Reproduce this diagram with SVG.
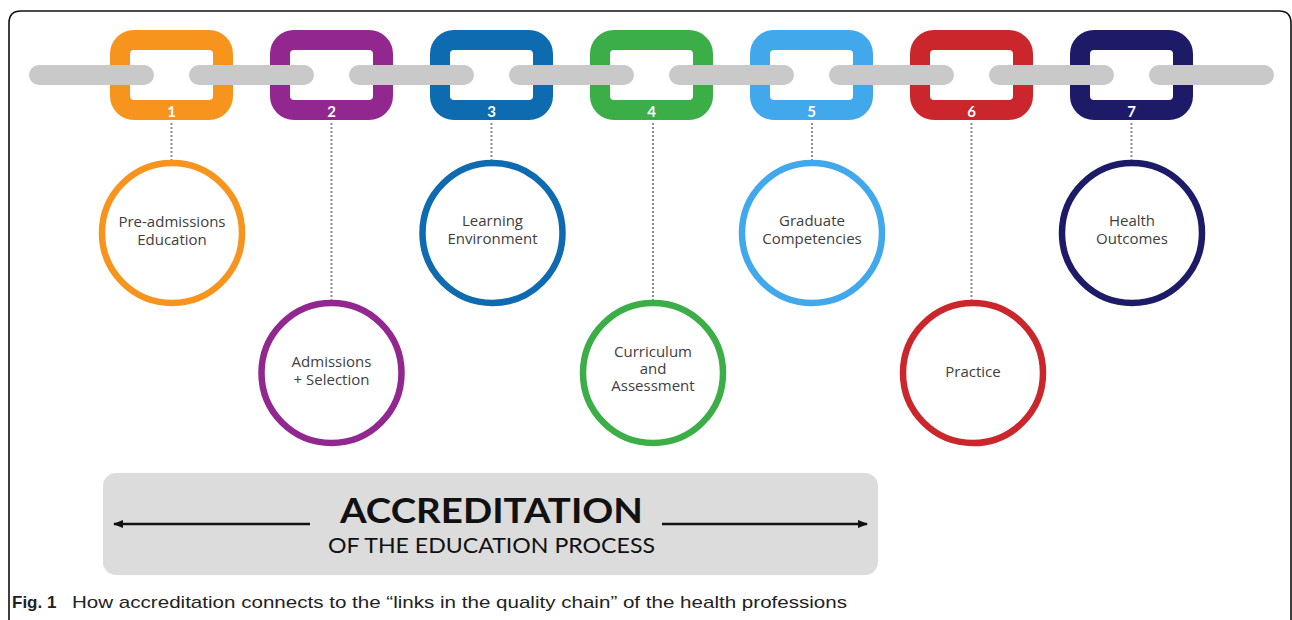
<svg xmlns="http://www.w3.org/2000/svg" width="1292" height="620" viewBox="0 0 1292 620">
<style>
.link{fill:none;stroke-width:20}
.ring{fill:#fff;stroke-width:6.5}
.num{font-family:"Lato","Liberation Sans",sans-serif;font-weight:bold;font-size:15px;fill:#fff;text-anchor:middle}
.lbl{font-family:"Open Sans","Liberation Sans",sans-serif;font-size:15px;fill:#404040;text-anchor:middle}
.bar{fill:#c9c9c9}
.dot{stroke:#8f8f8f;stroke-width:2;stroke-dasharray:2 2;fill:none}
.arr{stroke:#111;stroke-width:2.5;fill:none}
.cap{font-family:"Liberation Sans","Open Sans",sans-serif;font-size:17px;fill:#222}
</style>
<defs>
<marker id="ah" viewBox="0 0 10 8" refX="9" refY="4" markerWidth="10" markerHeight="8" markerUnits="userSpaceOnUse" orient="auto">
<path d="M0,0 L10,4 L0,8 z" fill="#111"/>
</marker>
</defs>
<rect width="1292" height="620" fill="#fff"/>
<path d="M9,620 V23 Q9,11 21,11 H1279 Q1291,11 1291,23 V620" fill="none" stroke="#111" stroke-width="1.6"/>

<g id="node1">
<rect class="link" x="120" y="40" width="103" height="70" rx="14" stroke="#F7941D"/>
<text class="num" x="171.5" y="117">1</text>
<circle class="ring" cx="172" cy="233" r="70" stroke="#F7941D"/>
<text class="lbl" x="172" y="227">Pre-admissions</text>
<text class="lbl" x="172" y="245">Education</text>
</g>
<g id="node2">
<rect class="link" x="280" y="40" width="103" height="70" rx="14" stroke="#92278F"/>
<text class="num" x="331.5" y="117">2</text>
<circle class="ring" cx="331.5" cy="373" r="70" stroke="#92278F"/>
<text class="lbl" x="331.5" y="367">Admissions</text>
<text class="lbl" x="331.5" y="385">+ Selection</text>
</g>
<g id="node3">
<rect class="link" x="440" y="40" width="103" height="70" rx="14" stroke="#0E6BB0"/>
<text class="num" x="491.5" y="117">3</text>
<circle class="ring" cx="492.5" cy="233" r="70" stroke="#0E6BB0"/>
<text class="lbl" x="492.5" y="226">Learning</text>
<text class="lbl" x="492.5" y="244">Environment</text>
</g>
<g id="node4">
<rect class="link" x="600" y="40" width="103" height="70" rx="14" stroke="#3BAE48"/>
<text class="num" x="651.5" y="117">4</text>
<circle class="ring" cx="653" cy="373" r="70" stroke="#3BAE48"/>
<text class="lbl" x="653" y="357">Curriculum</text>
<text class="lbl" x="653" y="374">and</text>
<text class="lbl" x="653" y="391">Assessment</text>
</g>
<g id="node5">
<rect class="link" x="760" y="40" width="103" height="70" rx="14" stroke="#42A8EC"/>
<text class="num" x="811.5" y="117">5</text>
<circle class="ring" cx="812" cy="233" r="70" stroke="#42A8EC"/>
<text class="lbl" x="812" y="226">Graduate</text>
<text class="lbl" x="812" y="244">Competencies</text>
</g>
<g id="node6">
<rect class="link" x="920" y="40" width="103" height="70" rx="14" stroke="#CC262D"/>
<text class="num" x="971.5" y="117">6</text>
<circle class="ring" cx="973" cy="373" r="70" stroke="#CC262D"/>
<text class="lbl" x="973" y="377">Practice</text>
</g>
<g id="node7">
<rect class="link" x="1080" y="40" width="103" height="70" rx="14" stroke="#1D1B67"/>
<text class="num" x="1131.5" y="117">7</text>
<circle class="ring" cx="1132" cy="233" r="70" stroke="#1D1B67"/>
<text class="lbl" x="1132" y="226">Health</text>
<text class="lbl" x="1132" y="244">Outcomes</text>
</g>

<g id="chain">
<rect class="bar" x="29" y="65" width="125" height="20" rx="10"/>
<rect class="bar" x="189" y="65" width="125" height="20" rx="10"/>
<rect class="bar" x="349" y="65" width="125" height="20" rx="10"/>
<rect class="bar" x="509" y="65" width="125" height="20" rx="10"/>
<rect class="bar" x="669" y="65" width="125" height="20" rx="10"/>
<rect class="bar" x="829" y="65" width="125" height="20" rx="10"/>
<rect class="bar" x="989" y="65" width="125" height="20" rx="10"/>
<rect class="bar" x="1149" y="65" width="125" height="20" rx="10"/>
</g>

<g id="connectors">
<line class="dot" x1="171.5" y1="123" x2="171.5" y2="160"/>
<line class="dot" x1="331.5" y1="123" x2="331.5" y2="300"/>
<line class="dot" x1="491.5" y1="123" x2="491.5" y2="160"/>
<line class="dot" x1="653" y1="123" x2="653" y2="300"/>
<line class="dot" x1="812" y1="123" x2="812" y2="160"/>
<line class="dot" x1="971.5" y1="123" x2="971.5" y2="300"/>
<line class="dot" x1="1131.5" y1="123" x2="1131.5" y2="160"/>
</g>

<g id="banner">
<rect x="103" y="473" width="775" height="102" rx="13" fill="#dcdcdc"/>
<line class="arr" x1="310" y1="524" x2="114" y2="524" marker-end="url(#ah)"/>
<line class="arr" x1="662" y1="524" x2="867" y2="524" marker-end="url(#ah)"/>
<text x="491.5" y="523" text-anchor="middle" font-family="Lato,'Liberation Sans',sans-serif" font-weight="bold" font-size="35" fill="#111" textLength="303" lengthAdjust="spacingAndGlyphs">ACCREDITATION</text>
<text x="491.5" y="553" text-anchor="middle" font-family="Lato,'Liberation Sans',sans-serif" font-size="21" fill="#111" textLength="327" lengthAdjust="spacingAndGlyphs">OF THE EDUCATION PROCESS</text>
</g>

<text class="cap" x="12" y="608" font-weight="bold">Fig. 1</text>
<text class="cap" x="72" y="608" textLength="775" lengthAdjust="spacingAndGlyphs">How accreditation connects to the “links in the quality chain” of the health professions</text>
</svg>
